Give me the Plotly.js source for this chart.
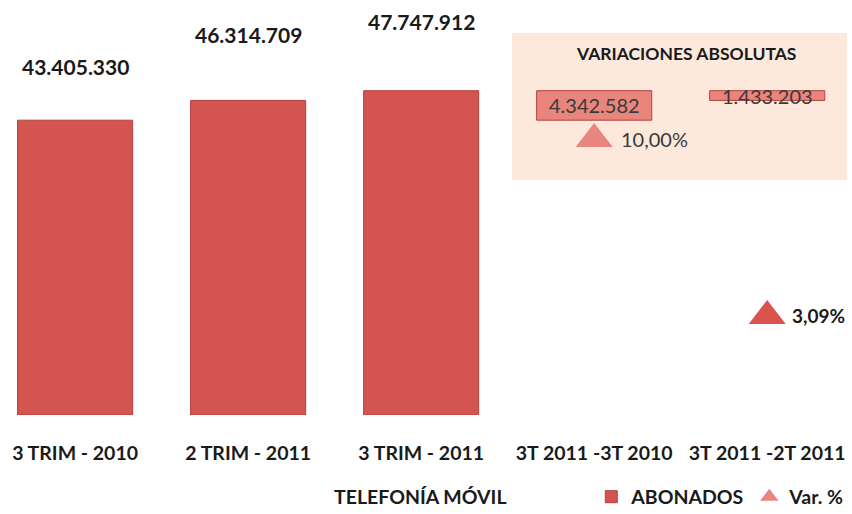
<!DOCTYPE html>
<html>
<head>
<meta charset="utf-8">
<script src="https://cdn.plot.ly/plotly-3.0.1.min.js"></script>
<style>html,body{margin:0;padding:0;background:#fff;}#chart{width:852px;height:514px;}</style>
</head>
<body>
<div id="chart"></div>
<script>
// ---- data ----
var categories = ['3 TRIM - 2010', '2 TRIM - 2011', '3 TRIM - 2011', '3T 2011 -3T 2010', '3T 2011 -2T 2011'];
var abonados = [43405330, 46314709, 47747912];
var variaciones = [4342582, 1433203];
var varPct = [10.00, 3.09];
var abonadosLabels = ['43.405.330', '46.314.709', '47.747.912'];
var variacionLabels = ['4.342.582', '1.433.203'];
var pctLabels = ['10,00%', '3,09%'];
var axisTitle = 'TELEFONÍA MÓVIL';
var boxTitle = 'VARIACIONES ABSOLUTAS';

// build bar trace (absolute values + floating variations)
var barX = categories.slice();
var barY = abonados.concat(variaciones);
var barBase = [0, 0, 0, abonados[0], abonados[1]];
var barColors = ['#D35450', '#D35450', '#D35450', '#E8857C', '#E8857C'];

var FONT = 'Lato, "Open Sans", sans-serif';

var traces = [
  {
    type: 'bar', name: 'ABONADOS',
    x: barX, y: barY, base: barBase,
    width: 0.665,
    marker: {color: barColors, line: {color: '#B5403D', width: 1}},
    hoverinfo: 'x+y'
  },
  {
    type: 'scatter', mode: 'markers', name: 'Var. %',
    x: categories.slice(3), y: varPct, yaxis: 'y2',
    marker: {symbol: 'triangle-up', size: 32, color: ['#E8857C', '#D9534F'], line: {width: 0}}
  }
];

var annotations = [];
var labelShift = [54, 66, 69];
for (var i = 0; i < abonados.length; i++) {
  annotations.push({x: categories[i], y: abonados[i], xref: 'x', yref: 'y', yshift: labelShift[i],
    text: '<b>' + abonadosLabels[i] + '</b>', showarrow: false,
    font: {family: FONT, size: 21, color: '#1a1a1a'}});
}
for (var j = 0; j < variaciones.length; j++) {
  annotations.push({x: categories[3 + j], y: abonados[j] + variaciones[j] / 2, xref: 'x', yref: 'y',
    text: variacionLabels[j], showarrow: false,
    font: {family: FONT, size: 20, color: '#3a3a3a'}});
}
annotations.push({x: categories[3], y: varPct[0], xref: 'x', yref: 'y2', xanchor: 'left', xshift: 25,
  text: pctLabels[0], showarrow: false, font: {family: FONT, size: 20, color: '#3a3a3a'}});
annotations.push({x: categories[4], y: varPct[1], xref: 'x', yref: 'y2', xanchor: 'left', xshift: 23,
  text: '<b>' + pctLabels[1] + '</b>', showarrow: false, font: {family: FONT, size: 19, color: '#1a1a1a'}});
annotations.push({x: 686 / 852, y: 0.872, xref: 'paper', yref: 'paper', xanchor: 'center', yanchor: 'middle',
  text: '<b>' + boxTitle + '</b>', showarrow: false, font: {family: FONT, size: 17.5, color: '#1a1a1a'}});
annotations.push({x: 420 / 852, y: (415 - 497) / 415, xref: 'paper', yref: 'paper', xanchor: 'center', yanchor: 'middle',
  text: '<b>' + axisTitle + '</b>', showarrow: false, font: {family: FONT, size: 19.5, color: '#1a1a1a'}});

var layout = {
  width: 852, height: 514,
  margin: {l: 0, r: 0, t: 0, b: 99, pad: 0, autoexpand: false},
  paper_bgcolor: '#ffffff', plot_bgcolor: '#ffffff',
  font: {family: FONT, color: '#1a1a1a'},
  showlegend: true,
  legend: {orientation: 'h', xref: 'container', yref: 'container', x: 0.694, xanchor: 'left',
    y: (514 - 497) / 514, yanchor: 'middle',
    font: {family: FONT, size: 19.5, color: '#1a1a1a', weight: 'bold'}, itemwidth: 30, tracegroupgap: 0,
    bgcolor: 'rgba(0,0,0,0)'},
  xaxis: {
    type: 'category', range: [-0.434, 4.49], showgrid: false, zeroline: false, showline: false,
    ticks: 'outside', ticklen: 21, tickcolor: 'rgba(0,0,0,0)',
    tickfont: {family: FONT, size: 19.5, color: '#1a1a1a', weight: 'bold'}
  },
  yaxis: {range: [0, 61.1e6], visible: false, showgrid: false, zeroline: false},
  yaxis2: {range: [-0.78, 15.43], overlaying: 'y', visible: false, showgrid: false, zeroline: false},
  shapes: [{type: 'rect', xref: 'paper', yref: 'paper', layer: 'below',
    x0: 512 / 852, x1: 847 / 852, y0: (415 - 180) / 415, y1: (415 - 33) / 415,
    fillcolor: '#FCE9DC', line: {width: 0}}],
  annotations: annotations,
  bargap: 0.335
};

Plotly.newPlot('chart', traces, layout, {displayModeBar: false, staticPlot: true});
</script>
</body>
</html>
